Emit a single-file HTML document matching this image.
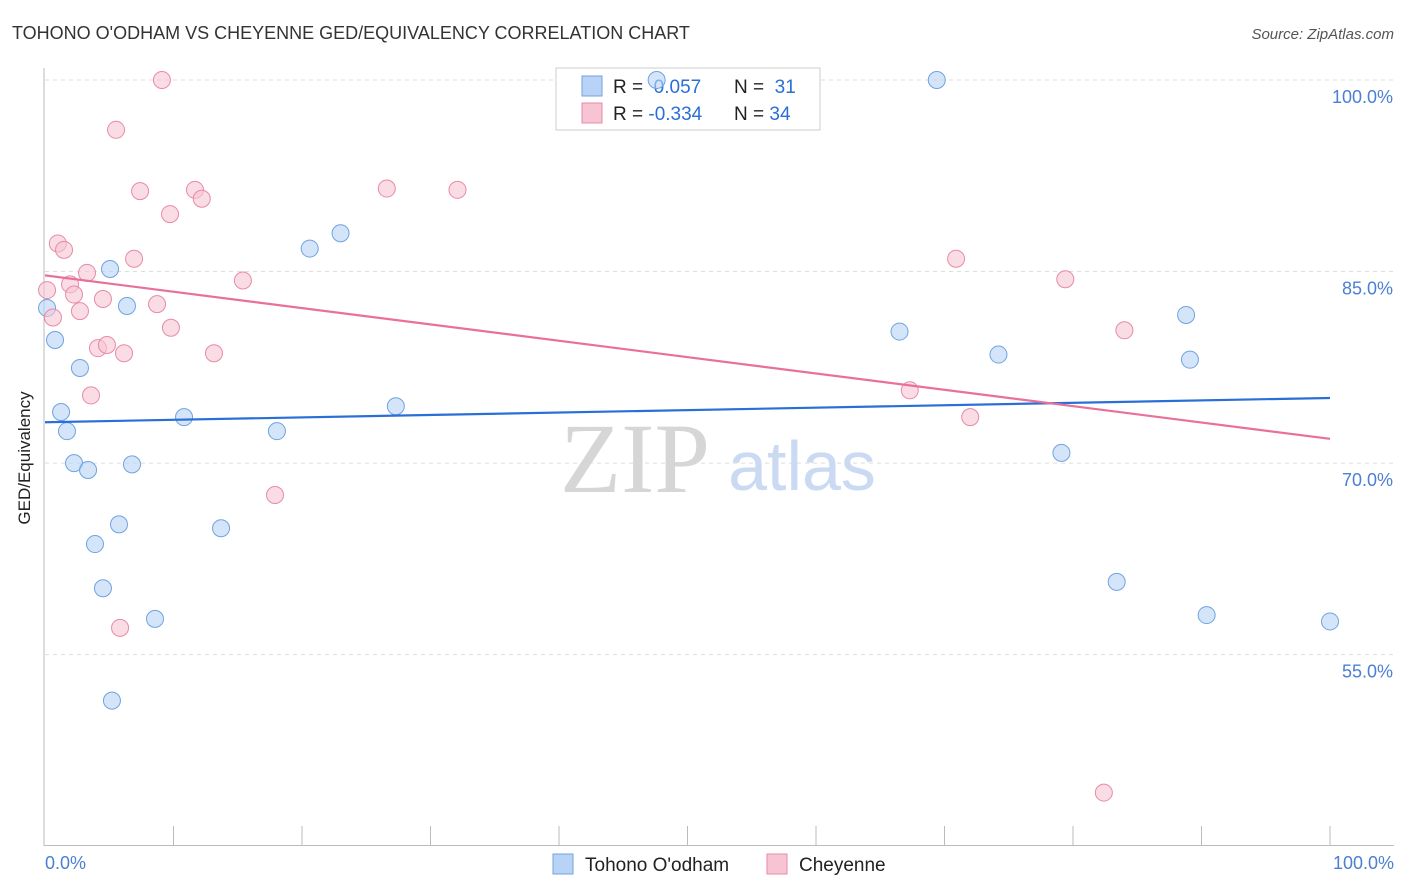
<!DOCTYPE html>
<html><head><meta charset="utf-8">
<style>
body{margin:0;background:#fff;font-family:"Liberation Sans",sans-serif;}
svg{display:block}
</style></head>
<body>
<svg width="1406" height="892" xmlns="http://www.w3.org/2000/svg">
<text x="12" y="39" font-size="18" fill="#333">TOHONO O'ODHAM VS CHEYENNE GED/EQUIVALENCY CORRELATION CHART</text>
<text x="1394" y="39" font-size="15" fill="#555" font-style="italic" text-anchor="end">Source: ZipAtlas.com</text>
<g id="grid"></g>
<g>
<text x="635" y="492" font-size="100" font-family="Liberation Serif,serif" fill="#d6d6d6" text-anchor="middle">ZIP</text>
<text x="802" y="490" font-size="70" fill="#c9daf2" text-anchor="middle">atlas</text>
</g>
<line x1="44" y1="68" x2="44" y2="846" stroke="#bbb"/>
<line x1="44" y1="845.5" x2="1394" y2="845.5" stroke="#bbb"/>
<g id="xticks"></g>
<g>
<rect x="556" y="68" width="264" height="62" fill="#fff" stroke="#ccc"/>
<rect x="582" y="76" width="20" height="20" fill="#b8d3f5" stroke="#6fa3e0"/>
<rect x="582" y="103" width="20" height="20" fill="#f7c4d3" stroke="#e88aa8"/>
<text x="613" y="93" font-size="19" fill="#222">R = <tspan fill="#2a6fd6">&#160;0.057</tspan><tspan x="734">N = </tspan><tspan fill="#2a6fd6">&#160;31</tspan></text>
<text x="613" y="120" font-size="19" fill="#222">R = <tspan fill="#2a6fd6">-0.334</tspan><tspan x="734">N = </tspan><tspan fill="#2a6fd6">34</tspan></text>
</g>
<g id="pts"></g>
<g id="trends"></g>
<text x="30" y="458" font-size="17" fill="#222" text-anchor="middle" transform="rotate(-90 30 458)">GED/Equivalency</text>
<text x="45" y="869" font-size="18" fill="#4a7fd4">0.0%</text>
<text x="1394" y="869" font-size="18" fill="#4a7fd4" text-anchor="end">100.0%</text>
<g>
<rect x="553" y="854" width="20" height="20" fill="#b8d3f5" stroke="#6fa3e0"/>
<text x="585" y="871" font-size="19" fill="#222">Tohono O'odham</text>
<rect x="767" y="854" width="20" height="20" fill="#f7c4d3" stroke="#e88aa8"/>
<text x="799" y="871" font-size="19" fill="#222">Cheyenne</text>
</g>
</svg>
<script>
const yTicks=[100,85,70,55];
const yTickLabels=["100.0%","85.0%","70.0%","55.0%"];
const xTicks=[10,20,30,40,50,60,70,80,90,100];
const blueX=[0.16,0.78,1.25,1.71,2.26,3.35,2.72,5.06,6.38,3.89,5.76,4.51,6.77,8.56,5.21,10.82,13.7,18.05,20.6,23.0,27.3,47.6,66.5,69.4,74.2,79.1,83.4,88.8,89.1,90.4,100];
const blueY=[82.15,79.64,74.0,72.5,70.0,69.46,77.45,85.2,82.3,63.66,65.2,60.2,69.9,57.8,51.4,73.6,64.9,72.5,86.8,88.0,74.45,100,80.3,100,78.5,70.8,60.7,81.6,78.1,58.1,57.6];
const pinkX=[0.16,0.62,1.0,1.48,1.95,2.26,2.72,3.27,3.58,4.12,4.51,4.82,5.53,6.15,6.93,7.4,8.72,9.1,9.73,9.8,11.67,12.2,13.15,15.4,17.9,26.6,32.1,67.3,70.9,72.0,79.4,82.4,84.0,5.84];
const pinkY=[83.55,81.4,87.2,86.7,84.0,83.2,81.9,84.9,75.3,79.0,82.85,79.25,96.1,78.6,86.0,91.3,82.45,100,89.5,80.6,91.4,90.7,78.6,84.3,67.5,91.5,91.4,75.7,86.0,73.6,84.4,44.2,80.4,57.1];
const blueTrend=[73.2,75.1];
const pinkTrend=[84.7,71.9];
const NS="http://www.w3.org/2000/svg";
const X=v=>45+v*12.85, Y=v=>80+(100-v)*12.77;
function mk(t,a,p){const e=document.createElementNS(NS,t);for(const k in a)e.setAttribute(k,a[k]);document.getElementById(p).appendChild(e);return e;}
yTicks.forEach((v,i)=>{
 const l=mk('line',{x1:45,x2:1394,y1:Y(v),y2:Y(v),stroke:'#ddd','stroke-dasharray':'4,4'},'grid');
 
 
 const t=mk('text',{x:1393,y:Y(v)+23,'font-size':18,fill:'#4a7fd4','text-anchor':'end'},'grid');
 t.textContent=yTickLabels[i];
 
 
});
xTicks.forEach(v=>{
 const l=mk('line',{x1:X(v),x2:X(v),y1:826,y2:845,stroke:'#bbb'},'xticks');
 
 
});
function pts(xs,ys,f,s,n){xs.forEach((x,i)=>{
 const c=mk('circle',{cx:X(x),cy:Y(ys[i]),r:8.5,fill:f,'fill-opacity':0.6,stroke:s,'stroke-width':1},'pts');
 
 
});}
pts(blueX,blueY,'#b8d3f5','#6fa3e0','tohono-point');
pts(pinkX,pinkY,'#f7c4d3','#e88aa8','cheyenne-point');
const b=mk('line',{x1:X(0),x2:X(100),y1:Y(blueTrend[0]),y2:Y(blueTrend[1]),stroke:'#2a6fd6','stroke-width':2.2},'trends');


const p=mk('line',{x1:X(0),x2:X(100),y1:Y(pinkTrend[0]),y2:Y(pinkTrend[1]),stroke:'#e8709a','stroke-width':2.2},'trends');


</script>
</body></html>
